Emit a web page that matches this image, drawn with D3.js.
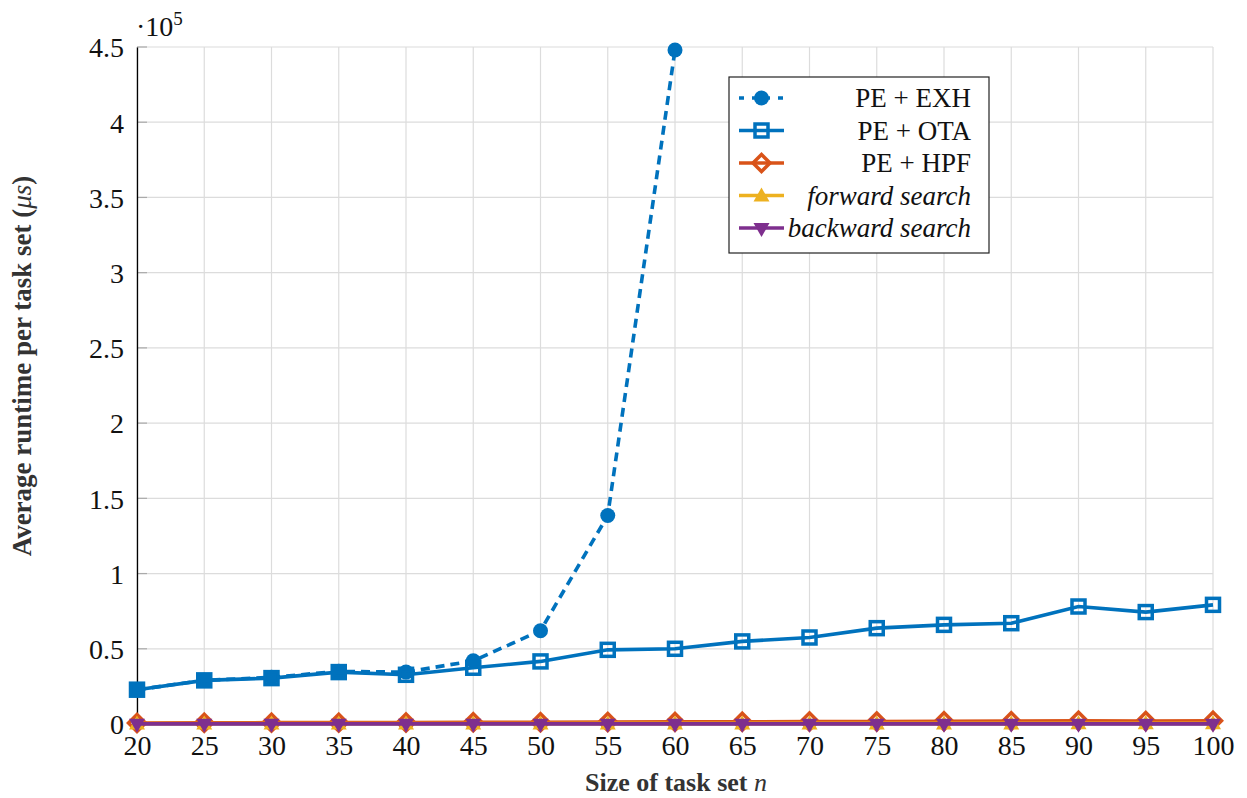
<!DOCTYPE html>
<html><head><meta charset="utf-8">
<script src="https://cdn.jsdelivr.net/npm/d3@7"></script>
<style>
body{margin:0;background:#fff;}
svg text{font-family:"Liberation Serif","Times New Roman",serif !important;}
</style></head>
<body><svg id="c" width="1247" height="798"></svg>
<script>
const sizes = [20,25,30,35,40,45,50,55,60,65,70,75,80,85,90,95,100];
const exhSizes = [20,25,30,35,40,45,50,55,60];
const peExh = [0.228,0.29,0.31,0.35,0.345,0.42,0.62,1.386,4.48];
const peOta = [0.228,0.29,0.305,0.345,0.327,0.374,0.416,0.493,0.5,0.549,0.575,0.637,0.659,0.67,0.781,0.744,0.792];
const peHpf = [0.007,0.008,0.009,0.009,0.010,0.011,0.012,0.013,0.014,0.015,0.016,0.017,0.018,0.019,0.021,0.020,0.022];
const forward = [0.003,0.003,0.003,0.003,0.003,0.003,0.003,0.004,0.004,0.004,0.004,0.004,0.004,0.004,0.005,0.005,0.005];
const backward = [0.001,0.001,0.001,0.001,0.001,0.001,0.001,0.001,0.001,0.001,0.001,0.001,0.001,0.001,0.001,0.001,0.001];
const yTicks = [0,0.5,1,1.5,2,2.5,3,3.5,4,4.5];
const xTicks = sizes;
const legendLabels = ["PE + EXH","PE + OTA","PE + HPF","forward search","backward search"];

const svg = d3.select("#c");
const L=137, R=1213, T=47, B=724;
const x = d3.scaleLinear().domain([20,100]).range([L,R]);
const y = d3.scaleLinear().domain([0,4.5]).range([B,T]);

const grid = svg.append("g");
grid.selectAll(".vx").data(xTicks).join("line")
  .attr("x1",d=>x(d)).attr("x2",d=>x(d)).attr("y1",T).attr("y2",B)
  .attr("stroke","#dcdcdc").attr("stroke-width",1.2);
grid.selectAll(".hy").data(yTicks).join("line")
  .attr("x1",L).attr("x2",R).attr("y1",d=>y(d)).attr("y2",d=>y(d))
  .attr("stroke","#dcdcdc").attr("stroke-width",1.2);
grid.selectAll(".ty").data(yTicks).join("line")
  .attr("x1",L).attr("x2",L+10).attr("y1",d=>y(d)).attr("y2",d=>y(d))
  .attr("stroke","#aaaaaa").attr("stroke-width",1.2);

const yAxis = svg.append("g").attr("transform",`translate(${L},0)`)
  .call(d3.axisLeft(y).tickValues(yTicks).tickSize(0).tickPadding(13).tickFormat(d=>String(d)));
yAxis.attr("font-family",null);
yAxis.select(".domain").attr("stroke","#000").attr("stroke-width",1.3);
yAxis.selectAll("text").attr("font-size",28).attr("fill","#111").attr("dy","0.35em");

const xAxis = svg.append("g").attr("transform",`translate(0,${B})`)
  .call(d3.axisBottom(x).tickValues(xTicks).tickSize(0).tickPadding(11).tickFormat(d=>String(d)));
xAxis.attr("font-family",null);
xAxis.select(".domain").attr("stroke","#000").attr("stroke-width",1.3);
xAxis.selectAll("text").attr("font-size",28).attr("fill","#111").attr("dy","0.7em");

const ex = svg.append("text").attr("x",136).attr("y",36).attr("font-size",28).attr("fill","#111");
ex.append("tspan").text("·10");
ex.append("tspan").attr("font-size",19).attr("dy",-11).text("5");

svg.append("text").attr("x",676).attr("y",791).attr("text-anchor","middle")
  .attr("font-size",26).attr("font-weight","bold").attr("fill","#333")
  .html('Size of task set <tspan font-style="italic" font-weight="normal">n</tspan>');
svg.append("text").attr("transform","translate(31,366) rotate(-90)").attr("text-anchor","middle")
  .attr("font-size",27).attr("font-weight","bold").attr("fill","#333")
  .html('Average runtime per task set (<tspan font-style="italic" font-weight="normal">μs</tspan>)');

const blue="#0072BD", orange="#D95319", yellow="#EDB120", purple="#7E2F8E";
const line = d3.line().x(d=>x(d[0])).y(d=>y(d[1]));
const plot = svg.append("g");

function series(xs, vals, color, dash){
  const pts = xs.map((s,i)=>[s,vals[i]]);
  plot.append("path").datum(pts).attr("d",line).attr("fill","none")
    .attr("stroke",color).attr("stroke-width",3.6).attr("stroke-dasharray",dash||null);
  return pts;
}
function marker(g, type, color, cx, cy){
  if(type==="circle") g.append("circle").attr("cx",cx).attr("cy",cy).attr("r",7.5).attr("fill",color);
  if(type==="square") g.append("rect").attr("x",cx-6.5).attr("y",cy-6.5).attr("width",13).attr("height",13)
     .attr("fill","none").attr("stroke",color).attr("stroke-width",3.5);
  if(type==="diamond") g.append("path").attr("d",`M${cx},${cy-8.5}L${cx+8.5},${cy}L${cx},${cy+8.5}L${cx-8.5},${cy}Z`)
     .attr("fill","none").attr("stroke",color).attr("stroke-width",3.5);
  if(type==="up") g.append("path").attr("d",`M${cx},${cy-8}L${cx+8},${cy+6}L${cx-8},${cy+6}Z`).attr("fill",color);
  if(type==="down") g.append("path").attr("d",`M${cx},${cy+9}L${cx+8},${cy-5}L${cx-8},${cy-5}Z`).attr("fill",color);
}
const defs = [
  {xs:exhSizes, v:peExh, c:blue, m:"circle", dash:"9,6"},
  {xs:sizes, v:peOta, c:blue, m:"square"},
  {xs:sizes, v:peHpf, c:orange, m:"diamond"},
  {xs:sizes, v:forward, c:yellow, m:"up"},
  {xs:sizes, v:backward, c:purple, m:"down"}
];
defs.forEach(s=>{
  const pts = series(s.xs, s.v, s.c, s.dash);
  const g = plot.append("g");
  pts.forEach(p=>marker(g, s.m, s.c, x(p[0]), y(p[1])));
});

const lg = svg.append("g");
lg.append("rect").attr("x",729).attr("y",77).attr("width",260).attr("height",176)
  .attr("fill","#fff").attr("stroke","#222").attr("stroke-width",1.2);
defs.forEach((s,i)=>{
  const yy = 98 + i*32.5;
  lg.append("line").attr("x1",739).attr("x2",784).attr("y1",yy).attr("y2",yy)
    .attr("stroke",s.c).attr("stroke-width",3.6).attr("stroke-dasharray",s.dash?"5,8":null)
    .attr("stroke-dashoffset",s.dash?0:0);
  marker(lg, s.m, s.c, 761.5, yy);
  lg.append("text").attr("x",971).attr("y",yy).attr("dy","0.35em").attr("text-anchor","end")
    .attr("font-size",27).attr("fill","#111").attr("font-style", i>=3?"italic":"normal")
    .text(legendLabels[i]);
});
</script></body></html>
